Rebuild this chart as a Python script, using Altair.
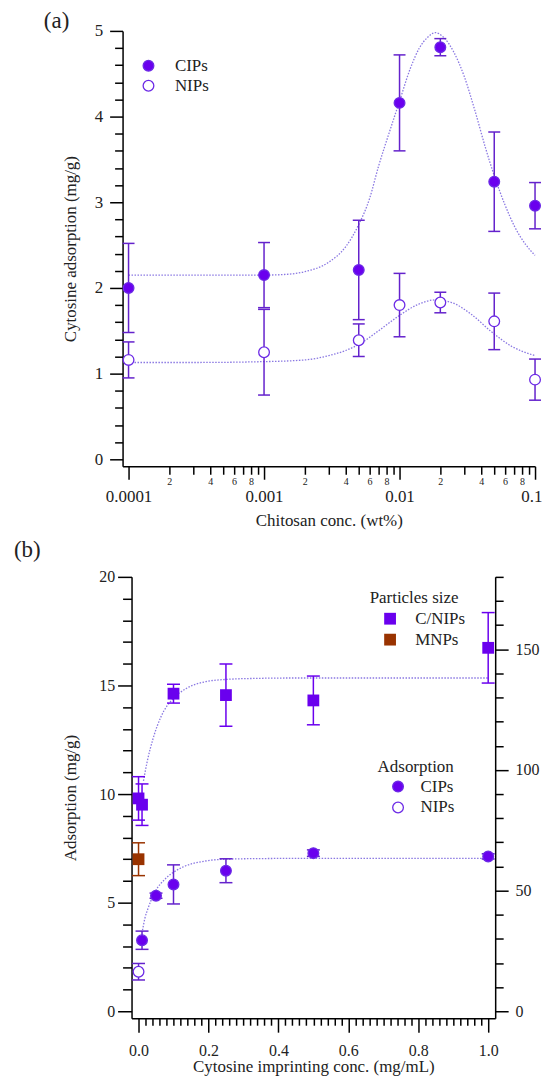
import altair as alt
import pandas as pd

FONT = "Liberation Serif"
PURPLE = "#6a00ee"
STROKE = "#6c2ae6"
ERR = "#6422cc"
FIT = "#8a78e2"
BROWN = "#993300"
TXT = "#222222"

# ---------------- panel (a) data ----------------
chitosan_conc = [0.0001, 0.001, 0.005, 0.01, 0.02, 0.05, 0.1]
cips_ads = [2.00, 2.15, 2.21, 4.16, 4.81, 3.24, 2.96]
cips_err = [0.52, 0.38, 0.58, 0.56, 0.10, 0.58, 0.27]
nips_ads = [1.16, 1.25, 1.39, 1.80, 1.83, 1.61, 0.93]
nips_err = [0.21, 0.50, 0.19, 0.37, 0.12, 0.33, 0.24]

cips_fit_x = [0.0001, 0.0003, 0.001, 0.0015, 0.002, 0.003, 0.004, 0.005, 0.006, 0.007,
              0.0085, 0.01, 0.012, 0.014, 0.016, 0.0184, 0.021, 0.025, 0.03, 0.036,
              0.043, 0.05, 0.06, 0.071, 0.085, 0.1]
cips_fit_y = [2.15, 2.15, 2.15, 2.16, 2.19, 2.30, 2.48, 2.74, 3.04, 3.42,
              3.84, 4.18, 4.56, 4.80, 4.92, 4.98, 4.93, 4.76, 4.47, 4.07,
              3.64, 3.31, 2.97, 2.71, 2.51, 2.38]
nips_fit_x = [0.0001, 0.0003, 0.001, 0.002, 0.003, 0.004, 0.005, 0.007, 0.0098, 0.0138,
              0.0183, 0.0242, 0.034, 0.0476, 0.067, 0.1]
nips_fit_y = [1.13, 1.13, 1.14, 1.16, 1.21, 1.27, 1.34, 1.50, 1.67, 1.81,
              1.86, 1.83, 1.69, 1.49, 1.32, 1.21]

# tick values / labels
a_major_x = [0.0001, 0.001, 0.01, 0.1]
a_minor_x = [float(f"{m}e{e}") for e in (-4, -3, -2) for m in range(2, 10)]
a_major_y = [0, 1, 2, 3, 4, 5]
a_minor_y = [round(0.2 * i, 1) for i in range(26) if i % 5 != 0]

# ---------------- panel (b) data ----------------
sq_conc = [0.0, 0.01, 0.1, 0.25, 0.5, 1.0]
sq_size = [88.2, 85.6, 131.6, 131.0, 128.8, 150.6]
sq_err = [9.0, 8.6, 3.9, 12.9, 10.1, 14.6]
mnp_conc = [0.0]
mnp_size = [63.0]
mnp_err = [6.8]
cip_conc = [0.01, 0.05, 0.1, 0.25, 0.5, 1.0]
cip_ads = [3.27, 5.32, 5.84, 6.47, 7.28, 7.13]
cip_err = [0.42, 0.12, 0.90, 0.55, 0.15, 0.12]
nip_conc = [0.0]
nip_ads = [1.82]
nip_err = [0.38]
size_fit_x = [0.0142, 0.025, 0.041, 0.065, 0.098, 0.136, 0.193, 0.25, 0.325, 0.45, 0.6, 0.8, 1.0]
size_fit_y = [95.5, 103.6, 112.7, 122.3, 129.4, 133.7, 136.6, 137.5, 137.9, 138.1, 138.1, 138.1, 138.1]
ads_fit_x = [0.0114, 0.018, 0.0268, 0.047, 0.077, 0.127, 0.188, 0.248, 0.35, 0.5, 0.75, 1.0]
ads_fit_y = [3.73, 4.27, 4.72, 5.49, 6.10, 6.64, 6.91, 7.00, 7.03, 7.04, 7.04, 7.04]

b_major_x = [0.0, 0.2, 0.4, 0.6, 0.8, 1.0]
b_minor_x = [round(0.02 * i, 2) for i in range(51) if i % 10 != 0]
b_major_yl = [0, 5, 10, 15, 20]
b_minor_yl = [v for v in range(21) if v % 5 != 0]
b_major_yr = [0, 50, 100, 150]
b_minor_yr = [v for v in range(0, 181, 10) if v % 50 != 0]

AX = dict(labelFont=FONT, titleFont=FONT, labelColor=TXT, titleColor=TXT, titleFontWeight="normal",
          labelOverlap=False, domainColor="black", domainWidth=1.5, tickColor="black", tickWidth=1.5,
          grid=False)


def minor_axis(values, orient, size, **kw):
    opts = dict(AX)
    opts.update(labelFlush=False)
    opts.update(kw)
    return alt.Axis(values=values, orient=orient, tickSize=size, domain=False, title=None, **opts)


# ================= panel (a) =================
df_a = pd.DataFrame({
    "conc": chitosan_conc * 2,
    "ads": cips_ads + nips_ads,
    "err": cips_err + nips_err,
    "series": ["CIPs"] * len(cips_ads) + ["NIPs"] * len(nips_ads),
})
df_a["lo"] = df_a["ads"] - df_a["err"]
df_a["hi"] = df_a["ads"] + df_a["err"]
df_fit_a = pd.DataFrame({
    "conc": cips_fit_x + nips_fit_x,
    "ads": cips_fit_y + nips_fit_y,
    "series": ["CIPs"] * len(cips_fit_x) + ["NIPs"] * len(nips_fit_x),
})

xa = alt.Scale(type="log", domain=[9.035e-5, 0.1], nice=False, range=[-9, 405])
ya = alt.Scale(domain=[-0.0814, 5], nice=False, zero=False)

x_major_a = alt.Axis(values=a_major_x, orient="bottom", tickSize=13, labelExpr="format(datum.value, '~g')",
                     labelFontSize=17, labelPadding=9, labelFlush=True, labelFlushOffset=7,
                     title="Chitosan conc. (wt%)", titleY=59, titleBaseline="alphabetic", titleFontSize=17,
                     **AX)
x_minor_a = minor_axis(
    a_minor_x, "bottom", 8,
    labelExpr="indexof([2,4,6,8], round(datum.value / pow(10, floor(log(datum.value)/LN10 + 0.001)))) >= 0 ? "
              "format(round(datum.value / pow(10, floor(log(datum.value)/LN10 + 0.001))), 'd') : ''",
    labelFontSize=10, labelPadding=2.6)
y_major_a = alt.Axis(values=a_major_y, orient="left", offset=9, tickSize=13, labelPadding=7, labelFontSize=17,
                     labelFlush=False, format="d",
                     title="Cytosine adsorption (mg/g)", titleX=-52, titleY=218.5, titleAngle=-90,
                     titleAlign="center", titleBaseline="middle", titleFontSize=17, **AX)
y_minor_a = minor_axis(a_minor_y, "left", 8, offset=9, labels=False)

fit_a = alt.Chart(df_fit_a).mark_line(
    color=FIT, strokeDash=[1.5, 1.5], strokeWidth=1.3, interpolate="monotone"
).encode(
    x=alt.X("conc:Q", scale=xa, axis=x_major_a),
    y=alt.Y("ads:Q", scale=ya, axis=y_major_a),
    detail="series:N",
)
bars_a = alt.Chart(df_a).mark_rule(color=ERR, strokeWidth=1.5).encode(
    x=alt.X("conc:Q", scale=xa, axis=x_minor_a),
    y=alt.Y("lo:Q", scale=ya, axis=y_minor_a), y2="hi:Q",
)
caplo_a = alt.Chart(df_a).mark_tick(orient="horizontal", size=12, thickness=1.5, color=ERR, opacity=1).encode(
    x=alt.X("conc:Q", scale=xa, axis=None), y=alt.Y("lo:Q", scale=ya, axis=None))
caphi_a = alt.Chart(df_a).mark_tick(orient="horizontal", size=12, thickness=1.5, color=ERR, opacity=1).encode(
    x=alt.X("conc:Q", scale=xa, axis=None), y=alt.Y("hi:Q", scale=ya, axis=None))
pts_a = alt.Chart(df_a).mark_circle(size=115, stroke=STROKE, strokeWidth=1.3, opacity=1).encode(
    x=alt.X("conc:Q", scale=xa, axis=None),
    y=alt.Y("ads:Q", scale=ya, axis=None),
    fill=alt.Fill("series:N", scale=alt.Scale(domain=["CIPs", "NIPs"], range=[PURPLE, "white"]),
                  legend=alt.Legend(title=None, orient="none", legendX=8.5, legendY=26.5,
                                    symbolType="circle", symbolSize=115, symbolStrokeColor=STROKE,
                                    symbolStrokeWidth=1.3, labelFontSize=17, labelFont=FONT,
                                    labelColor=TXT, labelOffset=18, rowPadding=2, padding=0)),
)
lab_a = alt.Chart(pd.DataFrame({"t": ["(a)"]})).mark_text(
    font=FONT, fontSize=23, align="left", baseline="middle", color=TXT
).encode(text="t:N", x=alt.value(-88), y=alt.value(-10))

top = alt.layer(fit_a, bars_a, caplo_a, caphi_a, pts_a, lab_a).resolve_axis(
    x="independent", y="independent").properties(width=405, height=437)

# ================= panel (b) =================
df_ads = pd.DataFrame({
    "conc": cip_conc + nip_conc,
    "ads": cip_ads + nip_ads,
    "err": cip_err + nip_err,
    "series": ["CIPs"] * len(cip_conc) + ["NIPs"] * len(nip_conc),
})
df_ads["lo"] = df_ads["ads"] - df_ads["err"]
df_ads["hi"] = df_ads["ads"] + df_ads["err"]
df_size = pd.DataFrame({
    "conc": sq_conc + mnp_conc,
    "size": sq_size + mnp_size,
    "err": sq_err + mnp_err,
    "series": ["C/NIPs"] * len(sq_conc) + ["MNPs"] * len(mnp_conc),
})
df_size["lo"] = df_size["size"] - df_size["err"]
df_size["hi"] = df_size["size"] + df_size["err"]
df_fit_ads = pd.DataFrame({"conc": ads_fit_x, "ads": ads_fit_y})
df_fit_size = pd.DataFrame({"conc": size_fit_x, "size": size_fit_y})

xb = alt.Scale(domain=[-0.02, 1.02], nice=False, zero=False)
yl = alt.Scale(domain=[-0.321, 20], nice=False, zero=False)
yr = alt.Scale(domain=[-2.89, 180], nice=False, zero=False)

x_major_b = alt.Axis(values=b_major_x, orient="bottom", tickSize=14, format=".1f", labelFontSize=16,
                     labelPadding=10, labelFlush=False,
                     title="Cytosine imprinting conc. (mg/mL)", titleY=53, titleBaseline="alphabetic",
                     titleFontSize=17, **AX)
x_minor_b = minor_axis(b_minor_x, "bottom", 7, labels=False)
yl_major = alt.Axis(values=b_major_yl, orient="left", tickSize=14, labelPadding=3, labelFontSize=16,
                    labelFlush=False, format="d",
                    title="Adsorption (mg/g)", titleX=-61.5, titleY=221.5, titleAngle=-90,
                    titleAlign="center", titleBaseline="middle", titleFontSize=17, **AX)
yl_minor = minor_axis(b_minor_yl, "left", 9, labels=False)
yr_major = alt.Axis(values=b_major_yr, orient="right", tickSize=13, labelPadding=7, labelFontSize=16,
                    labelFlush=False, format="d", title=None, **AX)
yr_minor = minor_axis(b_minor_yr, "right", 8, labels=False)

fit_ads = alt.Chart(df_fit_ads).mark_line(
    color=FIT, strokeDash=[1.5, 1.5], strokeWidth=1.3, interpolate="monotone"
).encode(x=alt.X("conc:Q", scale=xb, axis=x_major_b), y=alt.Y("ads:Q", scale=yl, axis=yl_major))
bars_ads = alt.Chart(df_ads).mark_rule(color=ERR, strokeWidth=1.5).encode(
    x=alt.X("conc:Q", scale=xb, axis=x_minor_b), y=alt.Y("lo:Q", scale=yl, axis=yl_minor), y2="hi:Q")
caplo_ads = alt.Chart(df_ads).mark_tick(orient="horizontal", size=13, thickness=1.5, color=ERR, opacity=1).encode(
    x=alt.X("conc:Q", scale=xb, axis=None), y=alt.Y("lo:Q", scale=yl, axis=None))
caphi_ads = alt.Chart(df_ads).mark_tick(orient="horizontal", size=13, thickness=1.5, color=ERR, opacity=1).encode(
    x=alt.X("conc:Q", scale=xb, axis=None), y=alt.Y("hi:Q", scale=yl, axis=None))
pts_ads = alt.Chart(df_ads).mark_circle(size=115, stroke=STROKE, strokeWidth=1.3, opacity=1).encode(
    x=alt.X("conc:Q", scale=xb, axis=None),
    y=alt.Y("ads:Q", scale=yl, axis=None),
    fill=alt.Fill("series:N", scale=alt.Scale(domain=["CIPs", "NIPs"], range=[PURPLE, "white"]),
                  legend=alt.Legend(title="Adsorption", orient="none", legendX=247, legendY=183,
                                    titleAnchor="start", titleFontSize=17, titleFont=FONT,
                                    titleFontWeight="normal", titleColor=TXT, titlePadding=2,
                                    symbolType="circle", symbolSize=115, symbolStrokeColor=STROKE,
                                    symbolStrokeWidth=1.3, symbolOffset=12, labelFontSize=17,
                                    labelFont=FONT, labelColor=TXT, labelOffset=14, rowPadding=3,
                                    padding=0)),
)
left_group = alt.layer(fit_ads, bars_ads, caplo_ads, caphi_ads, pts_ads).resolve_axis(
    x="independent", y="independent")

size_color = alt.Scale(domain=["C/NIPs", "MNPs"], range=[PURPLE, BROWN])
size_legend = alt.Legend(title="Particles size", orient="none", legendX=239, legendY=13.5,
                         titleAnchor="start", titleFontSize=17, titleFont=FONT,
                         titleFontWeight="normal", titleColor=TXT, titlePadding=3,
                         symbolType="square", symbolSize=140, symbolStrokeWidth=0,
                         symbolOffset=12, labelFontSize=17, labelFont=FONT,
                         labelColor=TXT, labelOffset=16.7, rowPadding=3, padding=0)
fit_size = alt.Chart(df_fit_size).mark_line(
    color=FIT, strokeDash=[1.5, 1.5], strokeWidth=1.3, interpolate="monotone"
).encode(x=alt.X("conc:Q", scale=xb, axis=None), y=alt.Y("size:Q", scale=yr, axis=yr_major))
bars_size = alt.Chart(df_size).mark_rule(strokeWidth=1.5).encode(
    x=alt.X("conc:Q", scale=xb, axis=None), y=alt.Y("lo:Q", scale=yr, axis=yr_minor), y2="hi:Q",
    color=alt.Color("series:N", scale=size_color, legend=size_legend))
caplo_size = alt.Chart(df_size).mark_tick(orient="horizontal", size=13, thickness=1.5, opacity=1).encode(
    x=alt.X("conc:Q", scale=xb, axis=None), y=alt.Y("lo:Q", scale=yr, axis=None),
    color=alt.Color("series:N", scale=size_color, legend=size_legend))
caphi_size = alt.Chart(df_size).mark_tick(orient="horizontal", size=13, thickness=1.5, opacity=1).encode(
    x=alt.X("conc:Q", scale=xb, axis=None), y=alt.Y("hi:Q", scale=yr, axis=None),
    color=alt.Color("series:N", scale=size_color, legend=size_legend))
pts_size = alt.Chart(df_size).mark_square(size=140, opacity=1).encode(
    x=alt.X("conc:Q", scale=xb, axis=None),
    y=alt.Y("size:Q", scale=yr, axis=None),
    color=alt.Color("series:N", scale=size_color, legend=size_legend),
)
right_group = alt.layer(fit_size, bars_size, caplo_size, caphi_size, pts_size).resolve_axis(y="independent")

lab_b = alt.Chart(pd.DataFrame({"t": ["(b)"]})).mark_text(
    font=FONT, fontSize=23, align="left", baseline="middle", color=TXT
).encode(text="t:N", x=alt.value(-118), y=alt.value(-27))

bottom = alt.layer(left_group, right_group, lab_b).resolve_scale(y="independent").properties(
    width=365, height=443)

chart = alt.vconcat(top, bottom, spacing=11).resolve_scale(
    fill="independent", color="independent"
).resolve_legend(fill="independent", color="independent").properties(
    padding={"left": 6, "top": 0, "right": 0, "bottom": 0}
).configure(font=FONT).configure_view(stroke=None).configure_axis(
    grid=False, domainColor="black", domainWidth=1.5, tickColor="black", tickWidth=1.5,
    labelFont=FONT, titleFont=FONT, labelColor=TXT, titleColor=TXT, titleFontWeight="normal",
).configure_legend(labelFont=FONT, titleFont=FONT)

chart.save("out.html", embed_options={"renderer": "svg", "actions": False})
